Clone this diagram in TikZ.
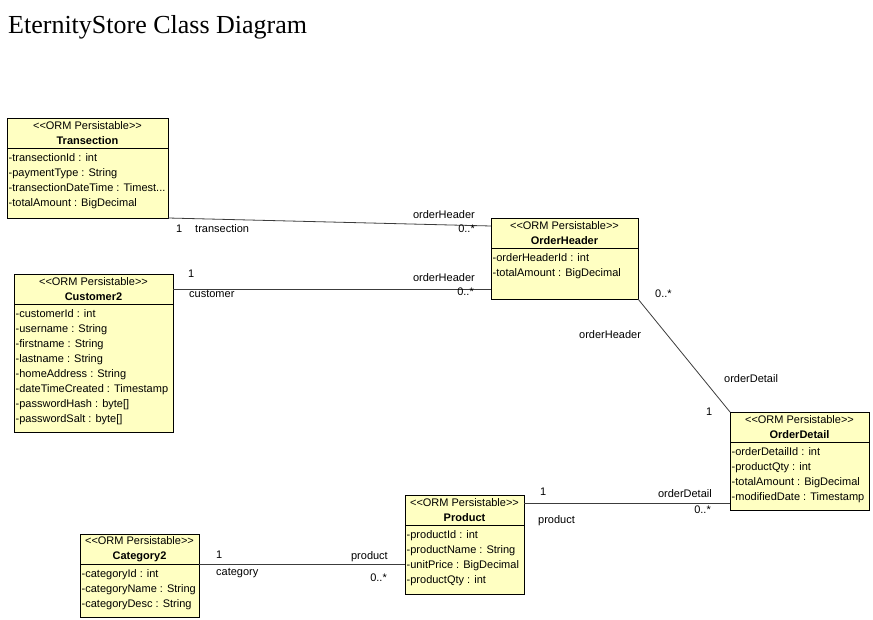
\documentclass[tikz,border=0pt]{standalone}
\usepackage{fontspec}
\setmainfont{Liberation Sans}
\newfontfamily\titlefont{Liberation Serif}
\usetikzlibrary{positioning}
\definecolor{clsfill}{RGB}{255,255,194}
\definecolor{linegray}{RGB}{60,60,60}
\newcommand{\orm}{<{}<ORM Persistable>{}>}

\begin{document}
\begin{tikzpicture}[x=1pt,y=-1pt,
  cls/.style  ={draw=black,fill=clsfill,line width=0.9pt,inner sep=0pt,outer sep=0pt},
  head/.style ={cls,anchor=north west,minimum height=30,align=center,
                font=\fontsize{11}{14.5}\selectfont},
  body/.style ={cls,anchor=north west},
  attr/.style ={anchor=north west,align=left,inner sep=0pt,xshift=1.5pt,yshift=-5.5pt,
                font=\fontsize{11}{15}\selectfont},
  assoc/.style={draw=linegray,line width=0.8pt},
  lbl/.style  ={font=\fontsize{11}{12}\selectfont,inner sep=0pt}
]
\useasboundingbox (0,0) rectangle (873,620);

%% Title
\node[anchor=base west,inner sep=0pt,font=\titlefont\fontsize{26}{30}\selectfont]
  (title) at (8,34) {EternityStore Class Diagram};

%% Classes: header + body + attribute list
\node[head,minimum width=161] (transH) at (7,118) {\orm\\\textbf{Transection}};
\node[body,minimum width=161,minimum height=70] (transB) at (transH.south west) {};
\node[attr] (transA) at (transB.north west)
  {-transectionId : int\\-paymentType : String\\-transectionDateTime : Timest...\\-totalAmount : BigDecimal};

\node[head,minimum width=159] (custH) at (14,274) {\orm\\\textbf{Customer2}};
\node[body,minimum width=159,minimum height=128] (custB) at (custH.south west) {};
\node[attr] (custA) at (custB.north west)
  {-customerId : int\\-username : String\\-firstname : String\\-lastname : String\\
   -homeAddress : String\\-dateTimeCreated : Timestamp\\-passwordHash : byte[]\\-passwordSalt : byte[]};

\node[head,minimum width=147] (ohH) at (491,218) {\orm\\\textbf{OrderHeader}};
\node[body,minimum width=147,minimum height=51] (ohB) at (ohH.south west) {};
\node[attr] (ohA) at (ohB.north west)
  {-orderHeaderId : int\\-totalAmount : BigDecimal};

\node[head,minimum width=139] (odH) at (730,412) {\orm\\\textbf{OrderDetail}};
\node[body,minimum width=139,minimum height=68] (odB) at (odH.south west) {};
\node[attr] (odA) at (odB.north west)
  {-orderDetailId : int\\-productQty : int\\-totalAmount : BigDecimal\\-modifiedDate : Timestamp};

\node[head,minimum width=119] (prodH) at (405,495) {\orm\\\textbf{Product}};
\node[body,minimum width=119,minimum height=69] (prodB) at (prodH.south west) {};
\node[attr] (prodA) at (prodB.north west)
  {-productId : int\\-productName : String\\-unitPrice : BigDecimal\\-productQty : int};

\node[head,minimum width=119] (catH) at (80,534) {\orm\\\textbf{Category2}};
\node[body,minimum width=119,minimum height=53] (catB) at (catH.south west) {};
\node[attr] (catA) at (catB.north west)
  {-categoryId : int\\-categoryName : String\\-categoryDesc : String};

%% Associations
\draw[assoc] (transB.south east) -- ([yshift=-8pt]ohH.north west);
\draw[assoc] (custH.east) -- (custH.east -| ohB.west);
\draw[assoc] (ohB.south east) -- (odH.north west);
\draw[assoc] ([yshift=7pt]prodH.east) -- ([yshift=7pt]prodH.east -| odB.west);
\draw[assoc] (catB.north east) -- (catB.north east -| prodB.west);

%% Role names and multiplicities
\node[lbl,anchor=base west] (trMul)  at (176,233) {1};
\node[lbl,anchor=base west] (trRole) at (195,233) {transection};
\node[lbl,anchor=base east] (ohRole1) at (475,219) {orderHeader};
\node[lbl,anchor=base east] (ohMul1)  at (475,233) {0..*};

\node[lbl,anchor=base west] (cuMul)  at (188,278) {1};
\node[lbl,anchor=base west] (cuRole) at (189,298) {customer};
\node[lbl,anchor=base east] (ohRole2) at (475,282) {orderHeader};
\node[lbl,anchor=base east] (ohMul2)  at (474,296) {0..*};

\node[lbl,anchor=base west] (ohMul3)  at (655,298) {0..*};
\node[lbl,anchor=base west] (ohRole3) at (579,338) {orderHeader};
\node[lbl,anchor=base west] (odRole1) at (724,382) {orderDetail};
\node[lbl,anchor=base west] (odMul1)  at (706,415) {1};

\node[lbl,anchor=base west] (prMul1)  at (540,495) {1};
\node[lbl,anchor=base west] (prRole1) at (538,523) {product};
\node[lbl,anchor=base east] (odRole2) at (712,497) {orderDetail};
\node[lbl,anchor=base east] (odMul2)  at (711,513) {0..*};

\node[lbl,anchor=base west] (caMul)   at (216,558) {1};
\node[lbl,anchor=base west] (caRole)  at (216,575) {category};
\node[lbl,anchor=base east] (prRole2) at (388,559) {product};
\node[lbl,anchor=base east] (prMul2)  at (387,581) {0..*};
\end{tikzpicture}
\end{document}
